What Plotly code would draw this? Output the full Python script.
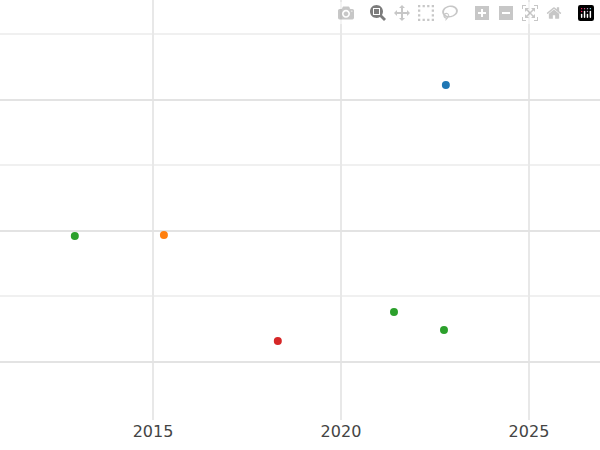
import plotly.graph_objects as go

years = [2022.79, 2015.29, 2012.92, 2018.32, 2021.41, 2022.74]
values = [2.115, 0.969, 0.962, 0.160, 0.382, 0.244]
colors = ["#1f77b4", "#ff7f0e", "#2ca02c", "#d62728", "#2ca02c", "#2ca02c"]

fig = go.Figure(go.Scatter(x=years, y=values, mode="markers",
                           marker=dict(color=colors, size=8), showlegend=False))
fig.update_layout(
    width=600, height=450, template="plotly_white",
    margin=dict(l=0, r=0, t=0, b=30),
    plot_bgcolor="white", paper_bgcolor="white",
    font=dict(family="DejaVu Sans", size=16, color="#444"),
)
fig.update_xaxes(range=[2010.93, 2026.89], tickvals=[2015, 2020, 2025],
                 showgrid=True, gridcolor="#e8e8e8", gridwidth=1.5,
                 minor=dict(showgrid=False), zeroline=False, showline=False)
fig.update_yaxes(range=[-0.443, 2.763], dtick=1, showticklabels=False,
                 showgrid=True, gridcolor="#e3e3e3", gridwidth=1.5,
                 minor=dict(dtick=0.5, showgrid=True, gridcolor="#f0f0f0"),
                 zeroline=False, showline=False)
fig.write_html("out.html",
               post_script="document.body.style.margin='0';document.body.style.overflow='hidden';")
